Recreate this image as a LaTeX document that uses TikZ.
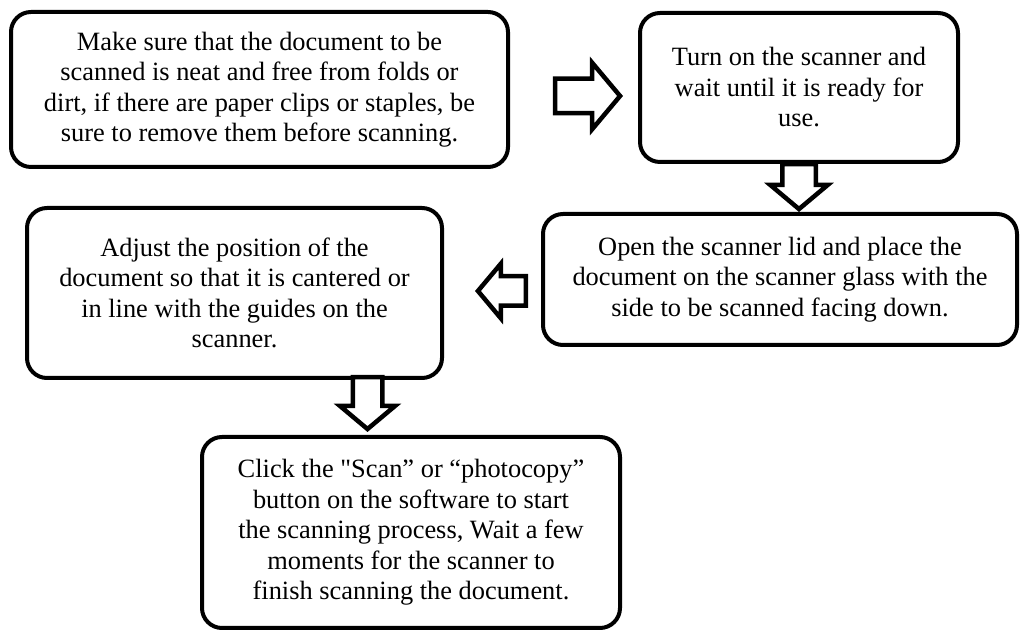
\documentclass[tikz,border=0pt]{standalone}
\usepackage{fontspec}
\setmainfont{Liberation Serif}
\usetikzlibrary{shapes.arrows}
\newcommand\plainquote{\XeTeXglyph\XeTeXcharglyph"22\relax}
\tikzset{%
  card/.style   = {shape=rectangle, rounded corners=20pt,%
                   draw, line width=4pt, align=center, inner sep=0pt,%
                   font=\fontsize{26.4}{30.5}\selectfont},%
  hollow/.style = {single arrow, draw, line width=4.5pt, inner xsep=0pt,%
                   fill=white, single arrow tip angle=100}%
}
\begin{document}
\begin{tikzpicture}[x=1pt, y=1pt]
  \useasboundingbox (0,0) rectangle (1020,631);
  % -------------- STEPS -----------------------------
  \node[card, minimum width=497pt, minimum height=155pt] (prep) at (259.5,541.5)
    {Make sure that the document to be\\scanned is neat and free from folds or\\dirt, if there are paper clips or staples, be\\sure to remove them before scanning.};
  \node[card, minimum width=318pt, minimum height=149pt] (power) at (799,543.5)
    {Turn on the scanner and\\wait until it is ready for\\use.};
  \node[card, minimum width=474pt, minimum height=131pt] (place) at (780,351.5)
    {Open the scanner lid and place the\\document on the scanner glass with the\\side to be scanned facing down.};
  \node[card, minimum width=415pt, minimum height=170pt] (adjust) at (234.5,338)
    {Adjust the position of the\\document so that it is cantered or\\in line with the guides on the\\scanner.};
  \node[card, minimum width=418pt, minimum height=191pt] (scan) at (411,98.5)
    {Click the \plainquote Scan” or “photocopy”\\button on the software to start\\the scanning process, Wait a few\\moments for the scanner to\\finish scanning the document.};
  % -------------- ARROWS -----------------------------
  \node[hollow, minimum height=65pt, inner ysep=15pt, single arrow head extend=16pt,
        anchor=tip] (a1) at (623,535) {};
  \node[hollow, minimum height=45pt, inner ysep=14.5pt, single arrow head extend=12pt,
        rotate=270, anchor=tip] (a2) at (power.south |- place.north) {};
  \node[hollow, minimum height=48pt, inner ysep=12.5pt, single arrow head extend=12.5pt,
        rotate=180, anchor=tip] (a3) at (475,340) {};
  \node[hollow, minimum height=52pt, inner ysep=12.5pt, single arrow head extend=13pt,
        rotate=270, anchor=tip] (a4) at (367.5,199) {};
\end{tikzpicture}
\end{document}
